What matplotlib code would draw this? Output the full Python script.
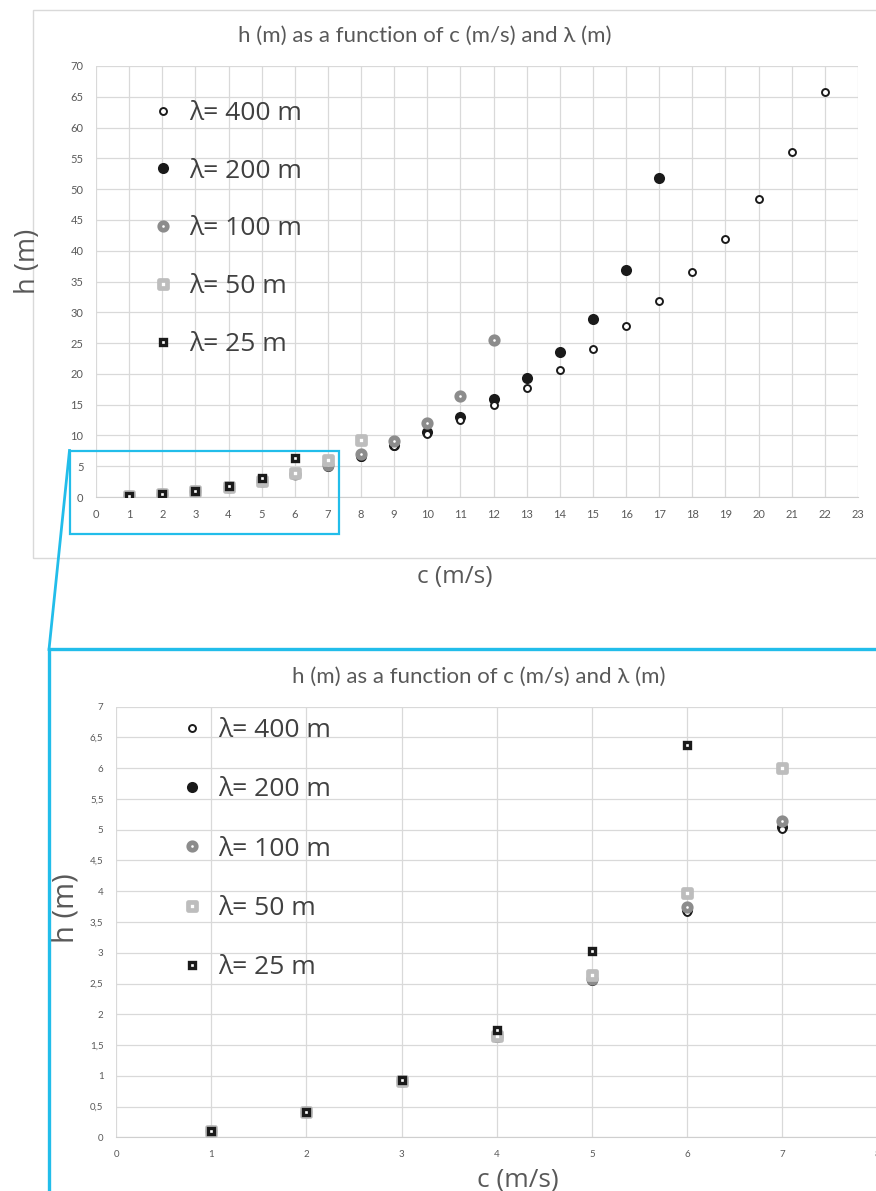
import matplotlib
matplotlib.use('Agg')
import matplotlib.pyplot as plt
from matplotlib.markers import MarkerStyle
from matplotlib.patches import Rectangle
from matplotlib.lines import Line2D
from matplotlib.font_manager import FontProperties
from matplotlib.ticker import FuncFormatter, MultipleLocator

# data: h (m) for each wave speed c (m/s)
c_400 = list(range(1, 23))
h_400 = [0.10, 0.41, 0.92, 1.63, 2.55, 3.67, 5.01, 6.55, 8.30, 10.28, 12.49,
         14.95, 17.67, 20.68, 24.01, 27.73, 31.88, 36.59, 41.98, 48.32, 55.99, 65.74]
c_200 = list(range(1, 18))
h_200 = [0.10, 0.41, 0.92, 1.63, 2.55, 3.69, 5.04, 6.62, 8.45, 10.57, 13.01,
         15.88, 19.29, 23.48, 28.93, 36.81, 51.76]
c_100 = list(range(1, 13))
h_100 = [0.10, 0.41, 0.92, 1.64, 2.57, 3.74, 5.15, 6.93, 9.15, 12.08, 16.44, 25.54]
c_50 = list(range(1, 9))
h_50 = [0.10, 0.41, 0.92, 1.65, 2.64, 3.97, 6.01, 9.20]
c_25 = list(range(1, 7))
h_25 = [0.11, 0.41, 0.93, 1.74, 3.03, 6.37]

labels = {400: 'λ= 400 m', 200: 'λ= 200 m', 100: 'λ= 100 m', 50: 'λ= 50 m', 25: 'λ= 25 m'}
title = 'h (m) as a function of c (m/s) and λ (m)'

W, H = 876, 1191
CYAN = '#22bdea'
GREY = '#595959'
fig = plt.figure(figsize=(W / 100, H / 100), dpi=100)


def fx(x):
    return x / W


def fy(y):
    return 1 - y / H


def box(x0, y0, x1, y1):
    return [fx(x0), fy(y1), (x1 - x0) / W, (y1 - y0) / H]


styles = {
    200: dict(marker='o', ms=8.0, mfc='#1a1a1a', mec='#1a1a1a', mew=0, zorder=3),
    400: dict(marker='o', ms=5.0, mfc='white', mec='#1a1a1a', mew=1.4, zorder=4),
    100: dict(marker='o', ms=5.4, mfc='white', mec='#8c8c8c', mew=3.4, zorder=5),
    50: dict(marker=MarkerStyle('s', joinstyle='round'), ms=6.2, mfc='white',
             mec='#bdbdbd', mew=3.4, zorder=6),
    25: dict(marker=MarkerStyle('s', joinstyle='miter'), ms=4.6, mfc='white',
             mec='#1a1a1a', mew=2.4, zorder=7),
}
series = {400: (c_400, h_400), 200: (c_200, h_200), 100: (c_100, h_100),
          50: (c_50, h_50), 25: (c_25, h_25)}
tfont = ['Lato', 'Open Sans', 'DejaVu Sans']
lfont = ['Open Sans', 'DejaVu Sans']


def draw(ax, tsize, legend_anchor, spacing, cmax):
    handles = {}
    for lam in [200, 400, 100, 50, 25]:
        x, y = series[lam]
        n = min(len(x), cmax)
        handles[lam], = ax.plot(x[:n], y[:n], ls='none', **styles[lam])
    ax.grid(True, color='#d9d9d9', lw=0.9)
    ax.set_axisbelow(True)
    for s in ['top', 'right', 'left']:
        ax.spines[s].set_visible(False)
    ax.spines['bottom'].set_color('#cfcfcf')
    ax.tick_params(length=0, labelsize=tsize, labelcolor=GREY, pad=9)
    for t in ax.get_xticklabels() + ax.get_yticklabels():
        t.set_family(tfont)
    order = [400, 200, 100, 50, 25]
    ax.legend([handles[k] for k in order], [labels[k] for k in order],
              loc='upper left', bbox_to_anchor=legend_anchor,
              bbox_transform=fig.transFigure, frameon=False,
              prop=FontProperties(family=lfont, size=19), labelcolor='#404040',
              handlelength=1.0, handletextpad=0.5, labelspacing=spacing,
              borderpad=0, borderaxespad=0)


# top chart: full range
ax1 = fig.add_axes(box(96, 66, 858, 497))
ax1.set_xlim(0, 23)
ax1.set_ylim(0, 70)
ax1.xaxis.set_major_locator(MultipleLocator(1))
ax1.yaxis.set_major_locator(MultipleLocator(5))
draw(ax1, 8, (fx(150), fy(101)), 1.24, 30)

# bottom chart: zoom on c = 1..7
ax2 = fig.add_axes(box(116, 706.7, 877.7, 1137.3))
ax2.set_xlim(0, 8)
ax2.set_ylim(0, 7)
ax2.xaxis.set_major_locator(MultipleLocator(1))
ax2.yaxis.set_major_locator(MultipleLocator(0.5))
ax2.yaxis.set_major_formatter(FuncFormatter(lambda v, p: ('%g' % v).replace('.', ',')))
draw(ax2, 7, (fx(179), fy(718)), 1.30, 7)

# titles and axis labels
fig.text(fx(425), fy(36), title, ha='center', va='center', fontsize=16, color=GREY, family=tfont)
fig.text(fx(28), fy(261), 'h (m)', rotation=90, ha='center', va='center', fontsize=19.5, color=GREY, family=lfont)
fig.text(fx(455), fy(577), 'c (m/s)', ha='center', va='center', fontsize=17.5, color=GREY, family=lfont)
fig.text(fx(479), fy(677), title, ha='center', va='center', fontsize=16, color=GREY, family=tfont)
fig.text(fx(66), fy(908), 'h (m)', rotation=90, ha='center', va='center', fontsize=21, color=GREY, family=lfont)
fig.text(fx(518), fy(1180), 'c (m/s)', ha='center', va='center', fontsize=19, color=GREY, family=lfont)

# chart frame and zoom callout
fig.add_artist(Rectangle((fx(33), fy(558)), fx(920) - fx(33), fy(10) - fy(558),
                         fill=False, ec='#d9d9d9', lw=1, transform=fig.transFigure))
fig.add_artist(Rectangle((fx(69.5), fy(533.5)), fx(339) - fx(69.5), fy(450.5) - fy(533.5),
                         fill=False, ec=CYAN, lw=1.6, transform=fig.transFigure, zorder=10))
fig.add_artist(Rectangle((fx(49), fy(1260)), fx(920) - fx(49), fy(649.5) - fy(1260),
                         fill=False, ec=CYAN, lw=2.4, transform=fig.transFigure, zorder=10))
fig.add_artist(Line2D([fx(69.5), fx(49)], [fy(450.5), fy(649.5)], color=CYAN, lw=2,
                      transform=fig.transFigure, zorder=10))

fig.savefig('out.png', dpi=100)
